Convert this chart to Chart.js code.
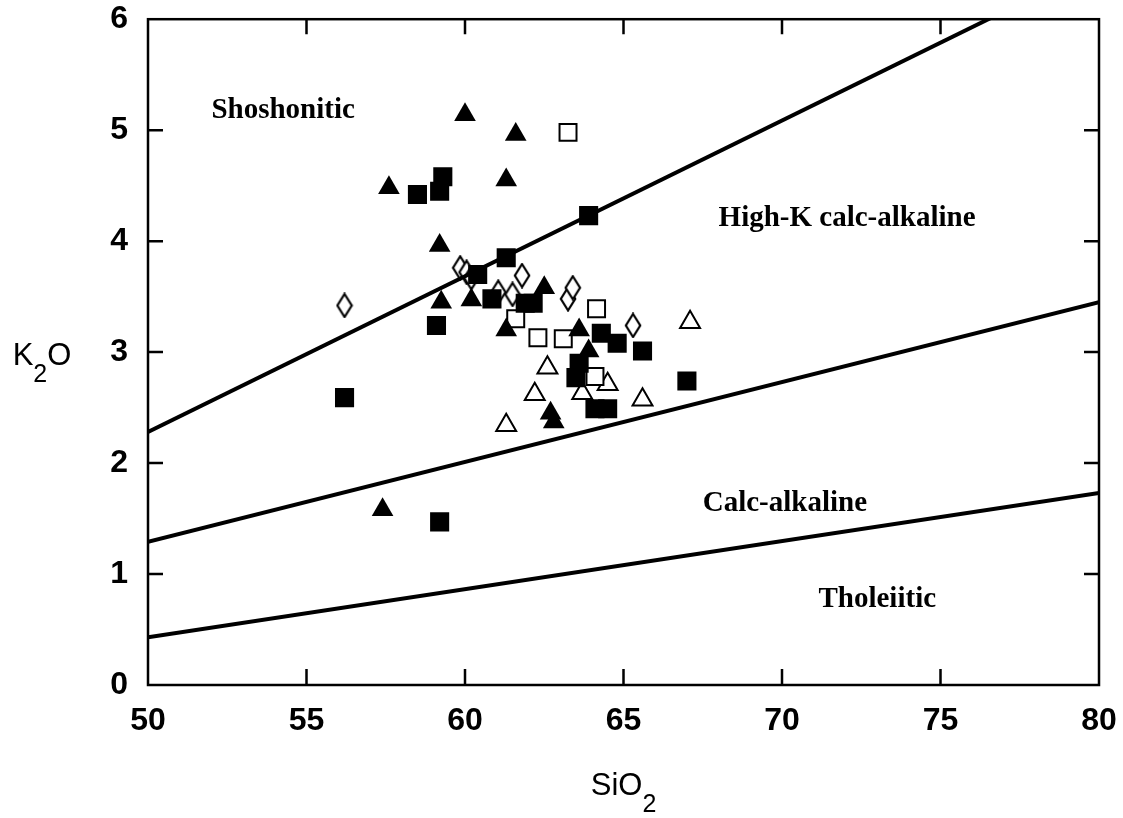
<!DOCTYPE html>
<html>
<head>
<meta charset="utf-8">
<script src="https://cdn.jsdelivr.net/npm/chart.js@4/dist/chart.umd.min.js"></script>
<style>
  html, body { margin: 0; padding: 0; background: #fff; }
  #wrap { width: 1123px; height: 818px; }
</style>
</head>
<body>
<div id="wrap"><canvas id="chart" width="1123" height="818"></canvas></div>
<script>
// boundary lines (SiO2 at both ends, K2O at both ends)
const lineSiO2 = [50, 80];
const shoshoniticLine = [2.28, 6.49];
const highKLine = [1.29, 3.45];
const calcAlkLine = [0.43, 1.73];

// samples
const filledTriX = [60.0, 61.6, 57.6, 61.3, 59.2, 59.25, 60.2, 61.3, 62.5, 63.6, 63.9, 62.7, 62.8, 57.4];
const filledTriY = [5.14, 4.96, 4.48, 4.55, 3.96, 3.45, 3.47, 3.20, 3.58, 3.20, 3.01, 2.45, 2.37, 1.58];

const filledSqX = [58.5, 59.2, 59.3, 63.9, 61.3, 60.4, 60.85, 61.9, 62.15, 59.1, 56.2, 59.2, 64.3, 64.8, 65.6, 67.0, 63.6, 63.5, 64.1, 64.5];
const filledSqY = [4.42, 4.45, 4.58, 4.23, 3.85, 3.70, 3.48, 3.44, 3.44, 3.24, 2.59, 1.47, 3.17, 3.08, 3.01, 2.74, 2.90, 2.77, 2.49, 2.49];

const openSqX = [63.25, 64.15, 61.6, 62.3, 63.1, 64.1];
const openSqY = [4.98, 3.39, 3.30, 3.13, 3.12, 2.78];

const openTriX = [67.1, 62.6, 64.5, 62.2, 65.6, 61.3, 63.7];
const openTriY = [3.27, 2.86, 2.71, 2.62, 2.57, 2.34, 2.63];

const openDiaX = [56.2, 59.85, 60.05, 60.2, 61.8, 61.05, 61.5, 63.25, 63.4, 65.3];
const openDiaY = [3.42, 3.76, 3.72, 3.67, 3.69, 3.54, 3.52, 3.48, 3.58, 3.24];

const xTicks = [50, 55, 60, 65, 70, 75, 80];
const yTicks = [0, 1, 2, 3, 4, 5, 6];

const regionLabels = ["Shoshonitic", "High-K calc-alkaline", "Calc-alkaline", "Tholeiitic"];
const regionLabelX = [52.0, 68.0, 67.5, 71.15];
const regionLabelY = [5.11, 4.14, 1.57, 0.70];

function pts(xs, ys) {
    return xs.map((x, i) => ({ x: x, y: ys[i] }));
}

// tall narrow open diamond marker
function makeDiamond() {
    const c = document.createElement("canvas");
    c.width = 18;
    c.height = 26;
    const g = c.getContext("2d");
    g.beginPath();
    g.moveTo(9, 1.5);
    g.lineTo(16.2, 13);
    g.lineTo(9, 24.5);
    g.lineTo(1.8, 13);
    g.closePath();
    g.fillStyle = "#fff";
    g.fill();
    g.lineWidth = 2.2;
    g.strokeStyle = "#000";
    g.stroke();
    return c;
}

const boxPlugin = {
    id: "boxPlugin",
    afterDatasetsDraw(chart) {
        const ctx = chart.ctx;
        const a = chart.chartArea;
        const xs = chart.scales.x;
        const ys = chart.scales.y;
        ctx.save();
        ctx.strokeStyle = "#000";
        ctx.lineWidth = 2.5;
        ctx.strokeRect(a.left, a.top, a.right - a.left, a.bottom - a.top);
        ctx.beginPath();
        xTicks.slice(1, -1).forEach(v => {
            const px = xs.getPixelForValue(v);
            ctx.moveTo(px, a.bottom); ctx.lineTo(px, a.bottom - 16);
            ctx.moveTo(px, a.top); ctx.lineTo(px, a.top + 15);
        });
        yTicks.slice(1, -1).forEach(v => {
            const py = ys.getPixelForValue(v);
            ctx.moveTo(a.left, py); ctx.lineTo(a.left + 15, py);
            ctx.moveTo(a.right, py); ctx.lineTo(a.right - 15, py);
        });
        ctx.stroke();

        // region labels
        ctx.fillStyle = "#000";
        ctx.font = "bold 29px 'Liberation Serif', 'Times New Roman', serif";
        ctx.textBaseline = "alphabetic";
        ctx.textAlign = "left";
        regionLabels.forEach((t, i) => {
            ctx.fillText(t, xs.getPixelForValue(regionLabelX[i]), ys.getPixelForValue(regionLabelY[i]));
        });

        // axis titles with subscripts
        const cx = (a.left + a.right) / 2;
        const big = "31px 'Liberation Sans', Arial, sans-serif";
        const sub = "25px 'Liberation Sans', Arial, sans-serif";
        function drawSub(parts, x, y) {
            let w = 0;
            parts.forEach(p => { ctx.font = p[1] ? sub : big; w += ctx.measureText(p[0]).width; });
            let px = x - w / 2;
            parts.forEach(p => {
                ctx.font = p[1] ? sub : big;
                ctx.fillText(p[0], px, y + (p[1] ? 17 : 0));
                px += ctx.measureText(p[0]).width;
            });
        }
        drawSub([["SiO", false], ["2", true]], cx, 795);
        drawSub([["K", false], ["2", true], ["O", false]], 42, 365);
        ctx.restore();
    }
};

const tickFont = { family: "'Liberation Sans', Arial, sans-serif", size: 32, weight: "bold" };

const ctx = document.getElementById("chart").getContext("2d");
new Chart(ctx, {
    type: "scatter",
    data: {
        datasets: [
            { label: "Shoshonitic boundary", type: "line", data: pts(lineSiO2, shoshoniticLine), borderColor: "#000", borderWidth: 4, pointRadius: 0, fill: false },
            { label: "High-K boundary", type: "line", data: pts(lineSiO2, highKLine), borderColor: "#000", borderWidth: 4, pointRadius: 0, fill: false },
            { label: "Calc-alkaline boundary", type: "line", data: pts(lineSiO2, calcAlkLine), borderColor: "#000", borderWidth: 4, pointRadius: 0, fill: false },
            { label: "Filled squares", data: pts(filledSqX, filledSqY), pointStyle: "rect", pointRadius: 13.5, backgroundColor: "#000", borderColor: "#000", borderWidth: 0 },
            { label: "Filled triangles", data: pts(filledTriX, filledTriY), pointStyle: "triangle", pointRadius: 12.5, backgroundColor: "#000", borderColor: "#000", borderWidth: 0 },
            { label: "Open squares", data: pts(openSqX, openSqY), pointStyle: "rect", pointRadius: 12, backgroundColor: "#fff", borderColor: "#000", borderWidth: 2 },
            { label: "Open triangles", data: pts(openTriX, openTriY), pointStyle: "triangle", pointRadius: 11.5, backgroundColor: "#fff", borderColor: "#000", borderWidth: 2 },
            { label: "Open diamonds", data: pts(openDiaX, openDiaY), pointStyle: makeDiamond(), pointRadius: 12 }
        ]
    },
    options: {
        responsive: false,
        animation: false,
        layout: { padding: { left: 0, right: 24, top: 18, bottom: 0 } },
        plugins: {
            legend: { display: false },
            tooltip: { enabled: false }
        },
        scales: {
            x: {
                type: "linear",
                min: 50,
                max: 80,
                afterBuildTicks: s => { s.ticks = xTicks.map(v => ({ value: v })); },
                afterFit: s => { s.height = 133; },
                grid: { drawOnChartArea: false, drawTicks: true, tickLength: 17, tickColor: "rgba(0,0,0,0)" },
                border: { display: false },
                ticks: { color: "#000", padding: 0, font: tickFont }
            },
            y: {
                type: "linear",
                min: 0,
                max: 6,
                afterBuildTicks: s => { s.ticks = yTicks.map(v => ({ value: v })); },
                afterFit: s => { s.width = 148; },
                grid: { drawOnChartArea: false, drawTicks: true, tickLength: 20, tickColor: "rgba(0,0,0,0)" },
                border: { display: false },
                ticks: { color: "#000", padding: 0, font: tickFont }
            }
        }
    },
    plugins: [boxPlugin]
});
</script>
</body>
</html>
